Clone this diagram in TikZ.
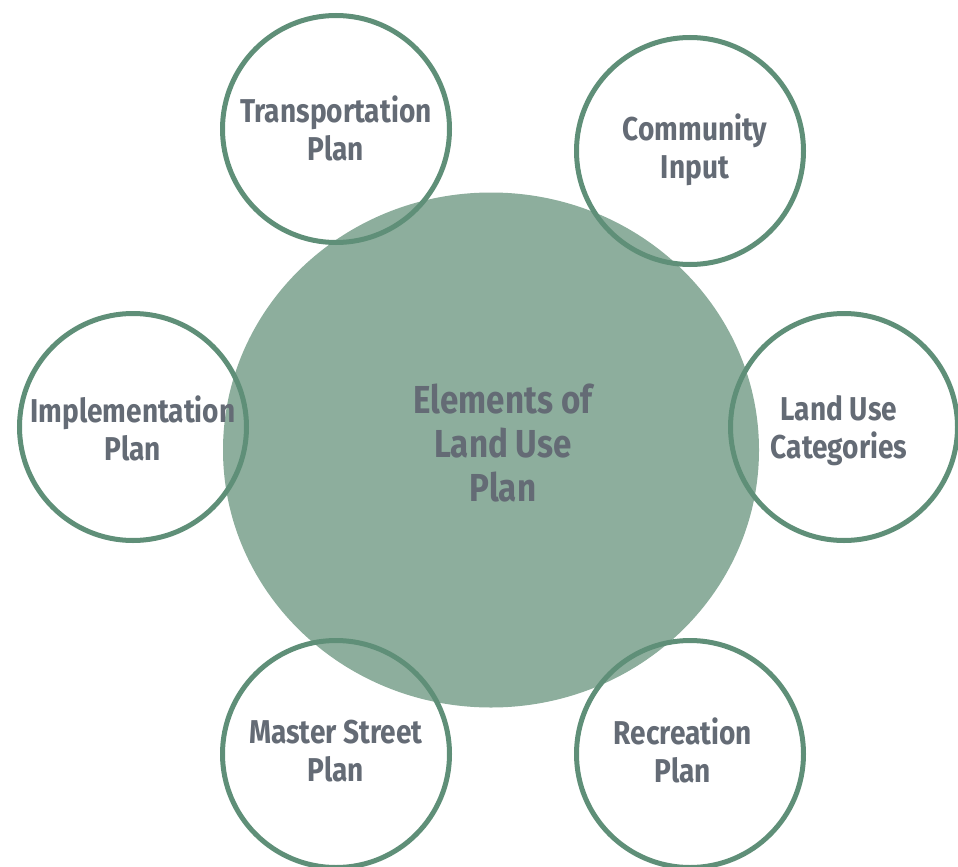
\documentclass[tikz,border=0pt]{standalone}
\usepackage[rgb]{xcolor}
\usepackage{fontspec}
\setmainfont[FakeStretch=0.85]{Fira Sans}
\usepackage{tikz}
\usetikzlibrary{shapes.geometric}

\definecolor{ringgreen}{HTML}{5F8F78}
\definecolor{hubgreen}{HTML}{8DAE9D}
\definecolor{labelgray}{HTML}{646B75}

\tikzset{
  ringnode/.style={circle, draw=ringgreen, line width=5pt, minimum size=227pt, inner sep=0pt},
  hubnode/.style={ellipse, fill=hubgreen, minimum width=536pt, minimum height=515pt, inner sep=0pt},
  labeltext/.style={text=labelgray, font=\bfseries\fontsize{33}{38}\selectfont, align=center},
  hubtext/.style={text=labelgray, font=\bfseries\fontsize{39}{44}\selectfont, align=center}
}

\begin{document}
\begin{tikzpicture}[x=1pt, y=-1pt]

\useasboundingbox (0,0) rectangle (958,867);

% the big element in the middle
 \node[hubnode] (hub) at (491,450) {};
 \node[hubtext] (hublabel) at (503,443) {Elements of\\Land Use\\Plan};

% ring of the six plans round it
 \node[ringnode] (transport) at (336,129) {};
 \node[ringnode] (community) at (690,151) {};
 \node[ringnode] (implement) at (133,427) {};
 \node[ringnode] (landuse)   at (844,427) {};
 \node[ringnode] (street)    at (336,754) {};
 \node[ringnode] (recreation) at (690,754) {};

 \node[labeltext] (transportlabel)  at (336,128.5) {Transportation\\Plan};
 \node[labeltext] (communitylabel)  at (695,149.5) {Community\\Input};
 \node[labeltext] (implementlabel)  at (133,428) {Implementation\\Plan};
 \node[labeltext] (landuselabel)    at (839,431) {Land Use\\Categories};
 \node[labeltext] (streetlabel)     at (336,751) {Master Street\\Plan};
 \node[labeltext] (recreationlabel) at (683,750) {Recreation\\Plan};

\end{tikzpicture}
\end{document}
